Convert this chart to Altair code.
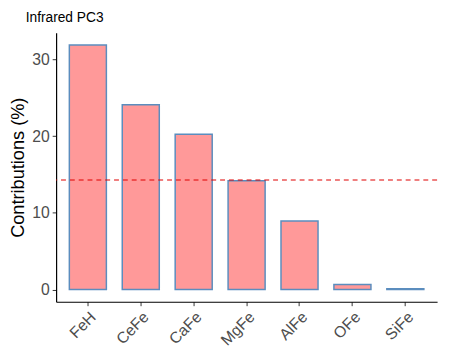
import altair as alt
import pandas as pd

categories = ["FeH", "CeFe", "CaFe", "MgFe", "AlFe", "OFe", "SiFe"]
contrib = [31.9, 24.1, 20.25, 14.2, 8.95, 0.65, 0.1]
ref_line = [100 / 7]

df = pd.DataFrame({"var": categories, "contrib": contrib})
df_line = pd.DataFrame({"y": ref_line})

font = "Liberation Sans"

bars = alt.Chart(df).mark_bar(
    fill="#FF9999", stroke="#5B8DBE", strokeWidth=1.5
).encode(
    x=alt.X("var:N", sort=None,
            scale=alt.Scale(paddingInner=0.3, paddingOuter=0.25),
            axis=alt.Axis(title=None, labelAngle=315, labelAlign="right",
                          labelBaseline="top", labelFontSize=16,
                          labelColor="#4D4D4D", labelFont=font,
                          domainColor="black", tickColor="#333333",
                          tickSize=4, labelPadding=3, grid=False)),
    y=alt.Y("contrib:Q",
            scale=alt.Scale(domain=[-1.6, 33.5], nice=False, zero=False),
            axis=alt.Axis(title="Contributions (%)", values=[0, 10, 20, 30],
                          titleFontSize=18.5, titleFontWeight="normal",
                          titleFont=font, titleColor="black",
                          labelFontSize=16, labelColor="#4D4D4D", labelFont=font,
                          domainColor="black", tickColor="#333333",
                          tickSize=4, labelPadding=3, titlePadding=4, grid=False)),
)

line = alt.Chart(df_line).mark_rule(
    color="#E00000", strokeDash=[5, 4], strokeWidth=1.2
).encode(y="y:Q")

chart = alt.layer(bars, line).properties(
    width=388, height=274,
    autosize=alt.AutoSizeParams(type="none"),
    padding={"left": 49, "top": 22, "right": 5, "bottom": 48},
    title=alt.TitleParams("Infrared PC3", anchor="start", frame="group",
                          fontSize=14, fontWeight="normal", font=font,
                          color="black", dx=-31, offset=8),
).configure_view(stroke=None).configure_axis(domainWidth=1.2)

chart.save("out.html", embed_options={"renderer": "svg", "actions": False})
